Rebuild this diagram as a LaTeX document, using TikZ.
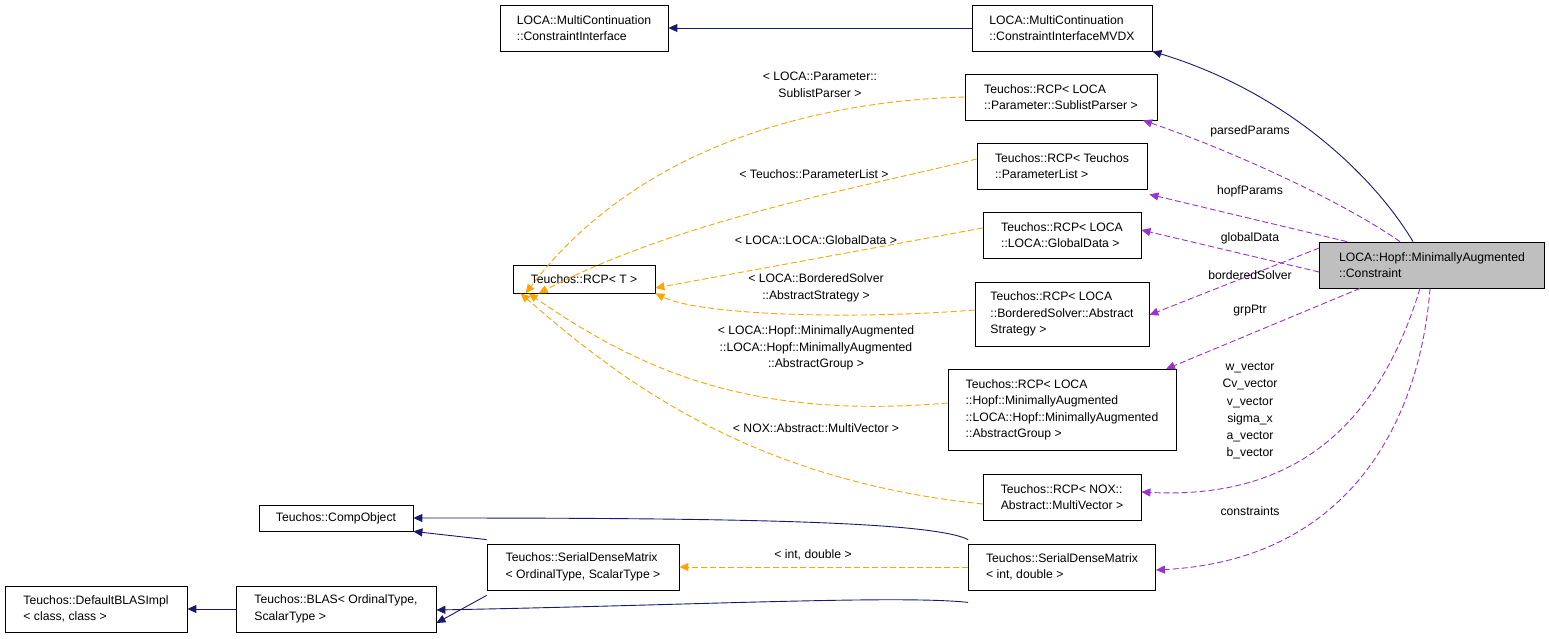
\documentclass[tikz,border=0pt]{standalone}
\usepackage{fontspec}
\setmainfont{Liberation Sans}
\usetikzlibrary{arrows.meta}
\definecolor{navy}{RGB}{25,25,112}
\definecolor{orng}{RGB}{255,165,0}
\definecolor{purp}{RGB}{154,50,205}
\begin{document}
\begin{tikzpicture}[x=1pt,y=-1pt,font=\fontsize{12.2}{16.5}\selectfont,
 box/.style={draw,line width=0.8pt,align=left,inner sep=0pt},
 lbl/.style={align=center,inner sep=0pt},
 dsh/.style={dash pattern=on 6pt off 3pt},
 inh/.style={navy,line width=0.9pt,-{Triangle[length=9pt,width=8pt]}},
 tmp/.style={orng,line width=0.9pt,dsh,-{Triangle[length=9pt,width=8pt]}},
 use/.style={purp,line width=0.9pt,dsh,-{Triangle[length=9pt,width=8pt]}}]
\useasboundingbox[fill=white] (0,0) rectangle (1549,639);
\node[box,minimum width=168,minimum height=46] (ci) at (584,28) {LOCA::MultiContinuation\\::ConstraintInterface};
\node[box,minimum width=180,minimum height=46] (mv) at (1062,28) {LOCA::MultiContinuation\\::ConstraintInterfaceMVDX};
\node[box,minimum width=192,minimum height=46] (sp) at (1061,97) {Teuchos::RCP< LOCA\\::Parameter::SublistParser >};
\node[box,minimum width=170,minimum height=46] (pl) at (1062,166) {Teuchos::RCP< Teuchos\\::ParameterList >};
\node[box,minimum width=158,minimum height=46] (gd) at (1062,235) {Teuchos::RCP< LOCA\\::LOCA::GlobalData >};
\node[box,minimum width=174,minimum height=64] (bs) at (1062,314) {Teuchos::RCP< LOCA\\::BorderedSolver::Abstract\\Strategy >};
\node[box,minimum width=228,minimum height=81] (ag) at (1062,410) {Teuchos::RCP< LOCA\\::Hopf::MinimallyAugmented\\::LOCA::Hopf::MinimallyAugmented\\::AbstractGroup >};
\node[box,minimum width=158,minimum height=46] (mvx) at (1062,497) {Teuchos::RCP< NOX::\\Abstract::MultiVector >};
\node[box,minimum width=187,minimum height=46] (sdi) at (1062,567) {Teuchos::SerialDenseMatrix\\< int, double >};
\node[box,minimum width=142,minimum height=28] (rcp) at (584,279) {Teuchos::RCP< T >};
\node[box,minimum width=154,minimum height=26] (co) at (336,518) {Teuchos::CompObject};
\node[box,minimum width=192,minimum height=46] (sdo) at (583,567) {Teuchos::SerialDenseMatrix\\< OrdinalType, ScalarType >};
\node[box,minimum width=200,minimum height=46] (bl) at (336,609) {Teuchos::BLAS< OrdinalType,\\ScalarType >};
\node[box,minimum width=182,minimum height=46] (db) at (96,609) {Teuchos::DefaultBLASImpl\\< class, class >};
\node[box,fill=black!25,minimum width=225,minimum height=46] (c) at (1432,265) {LOCA::Hopf::MinimallyAugmented\\::Constraint};
% inheritance
\draw[inh] (mv.west) -- (ci.east);
\draw[inh] ([xshift=-19]c.north) .. controls (1370,170) and (1280,90) .. (mv.south east);
\draw[inh] (bl.west) -- (db.east);
\draw[inh] ([yshift=4]sdo.north west) -- (co.south east);
\draw[inh] ([yshift=-5]sdo.south west) -- ([yshift=-14]bl.east);
\draw[inh] ([yshift=4]sdi.north west) .. controls (930,520) and (700,518) .. (co.east);
\draw[inh] ([yshift=-12]sdi.south west) .. controls (900,595) and (700,605) .. ([yshift=-1]bl.east);
% template
\draw[tmp] (sdi.west) -- (sdo.east);
\node[lbl] (l0) at (813,555) {< int, double >};
\draw[tmp] (sp.west) .. controls (850,100) and (650,130) .. ([xshift=13]rcp.south west);
\draw[tmp] ([yshift=7]pl.west) .. controls (850,190) and (680,220) .. ([xshift=26]rcp.south west);
\draw[tmp] ([yshift=7]gd.west) -- ([yshift=-9]rcp.east);
\draw[tmp] ([yshift=4]bs.west) .. controls (850,320) and (700,315) .. (rcp.south east);
\draw[tmp] ([yshift=7]ag.west) .. controls (750,420) and (640,370) .. ([xshift=16]rcp.south west);
\draw[tmp] ([yshift=-7]mvx.west) .. controls (750,480) and (620,380) .. ([xshift=8]rcp.south west);
\node[lbl] (l1) at (820,85) {< LOCA::Parameter::\\SublistParser >};
\node[lbl] (l2) at (814,174) {< Teuchos::ParameterList >};
\node[lbl] (l3) at (816,240) {< LOCA::LOCA::GlobalData >};
\node[lbl] (l4) at (816,288) {< LOCA::BorderedSolver\\::AbstractStrategy >};
\node[lbl] (l5) at (816,348) {< LOCA::Hopf::MinimallyAugmented\\::LOCA::Hopf::MinimallyAugmented\\::AbstractGroup >};
\node[lbl] (l6) at (816,428) {< NOX::Abstract::MultiVector >};
% usage
\draw[use] ([xshift=-32]c.north) .. controls (1340,200) and (1230,150) .. ([xshift=82]sp.south);
\draw[use] ([xshift=-85]c.north) -- ([xshift=2,yshift=-5]pl.south east);
\draw[use] ([yshift=-7]c.west) -- ([yshift=5]gd.east);
\draw[use] ([yshift=17]c.west) -- ([yshift=-1]bs.east);
\draw[use] ([xshift=-72]c.south) -- ([xshift=104]ag.north);
\draw[use] ([xshift=-12]c.south) .. controls (1380,420) and (1300,500) .. ([yshift=5]mvx.east);
\draw[use] ([xshift=-2]c.south) .. controls (1420,420) and (1350,560) .. ([yshift=-3]sdi.east);
\node[lbl] (u1) at (1250,131) {parsedParams};
\node[lbl] (u2) at (1250,191) {hopfParams};
\node[lbl] (u3) at (1250,238) {globalData};
\node[lbl] (u4) at (1250,275) {borderedSolver};
\node[lbl] (u5) at (1250,311) {grpPtr};
\node[lbl,font=\fontsize{12.2}{17.3}\selectfont] (u6) at (1250,411) {w\_vector\\Cv\_vector\\v\_vector\\sigma\_x\\a\_vector\\b\_vector};
\node[lbl] (u7) at (1250,511) {constraints};
\end{tikzpicture}
\end{document}
